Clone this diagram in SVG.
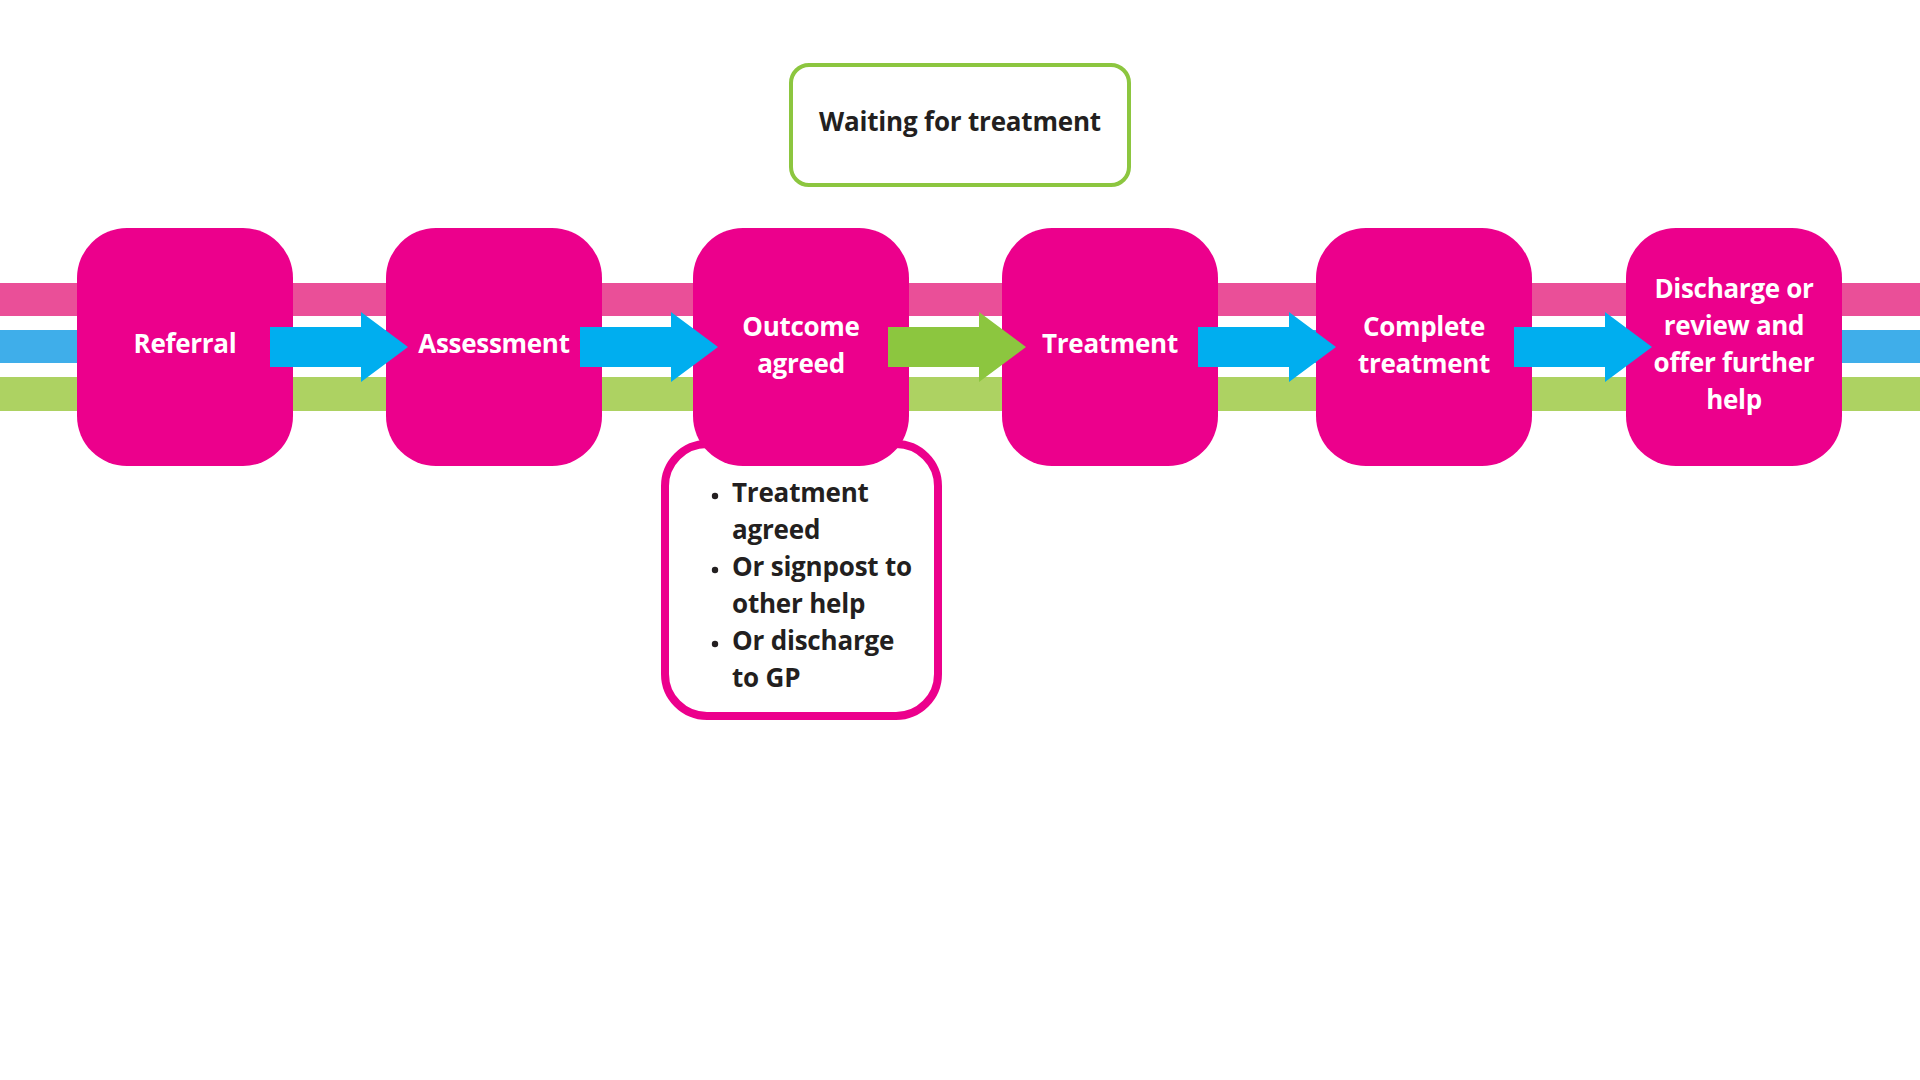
<svg xmlns="http://www.w3.org/2000/svg" xmlns:xlink="http://www.w3.org/1999/xlink" width="1920" height="1080" viewBox="0 0 1920 1080">
<style>
.step{fill:#EC008C}
.wt{font-family:"Open Sans","Noto Sans","Liberation Sans",sans-serif;font-weight:700;font-size:26px;letter-spacing:-0.3px;fill:#FFFFFF;text-anchor:middle}
.bt{font-family:"Open Sans","Noto Sans","Liberation Sans",sans-serif;font-weight:700;font-size:26px;letter-spacing:-0.2px;fill:#231F20}
.blue{fill:#00AEEF}
.green{fill:#8CC63F}
</style>
<defs>
<path id="arrow" d="M0,327 H91 V312 L138,347 L91,382 V367 H0 Z"/>
</defs>
<rect width="1920" height="1080" fill="#FFFFFF"/>
<g id="bands">
<rect x="0" y="283" width="1920" height="33" fill="#EA4F98"/>
<rect x="0" y="330" width="1920" height="33" fill="#3FAEEA"/>
<rect x="0" y="377" width="1920" height="34" fill="#ADD262"/>
</g>
<g id="waiting">
<rect x="791" y="65" width="338" height="120" rx="18" fill="#FFFFFF" stroke="#8CC63F" stroke-width="4"/>
<text class="bt" x="960" y="131" text-anchor="middle">Waiting for treatment</text>
</g>
<g id="outcome-details">
<rect x="665" y="444" width="273" height="272" rx="42" fill="#FFFFFF" stroke="#EC008C" stroke-width="8"/>
<circle cx="715" cy="496" r="3.2" fill="#231F20"/>
<circle cx="715" cy="570" r="3.2" fill="#231F20"/>
<circle cx="715" cy="644" r="3.2" fill="#231F20"/>
<text class="bt" x="732" y="502">Treatment</text>
<text class="bt" x="732" y="539">agreed</text>
<text class="bt" x="732" y="576">Or signpost to</text>
<text class="bt" x="732" y="613">other help</text>
<text class="bt" x="732" y="650">Or discharge</text>
<text class="bt" x="732" y="687">to GP</text>
</g>
<g id="referral">
<rect class="step" x="77" y="228" width="216" height="238" rx="50"/>
<text class="wt" x="185" y="353">Referral</text>
</g>
<g id="assessment">
<rect class="step" x="386" y="228" width="216" height="238" rx="50"/>
<text class="wt" x="494" y="353">Assessment</text>
</g>
<g id="outcome">
<rect class="step" x="693" y="228" width="216" height="238" rx="50"/>
<text class="wt" x="801" y="336">Outcome</text>
<text class="wt" x="801" y="373">agreed</text>
</g>
<g id="treatment">
<rect class="step" x="1002" y="228" width="216" height="238" rx="50"/>
<text class="wt" x="1110" y="353">Treatment</text>
</g>
<g id="complete">
<rect class="step" x="1316" y="228" width="216" height="238" rx="50"/>
<text class="wt" x="1424" y="336">Complete</text>
<text class="wt" x="1424" y="373">treatment</text>
</g>
<g id="discharge">
<rect class="step" x="1626" y="228" width="216" height="238" rx="50"/>
<text class="wt" x="1734" y="298">Discharge or</text>
<text class="wt" x="1734" y="335">review and</text>
<text class="wt" x="1734" y="372">offer further</text>
<text class="wt" x="1734" y="409">help</text>
</g>
<g id="connectors">
<use xlink:href="#arrow" class="blue" x="270"/>
<use xlink:href="#arrow" class="blue" x="580"/>
<use xlink:href="#arrow" class="green" x="888"/>
<use xlink:href="#arrow" class="blue" x="1198"/>
<use xlink:href="#arrow" class="blue" x="1514"/>
</g>
</svg>
